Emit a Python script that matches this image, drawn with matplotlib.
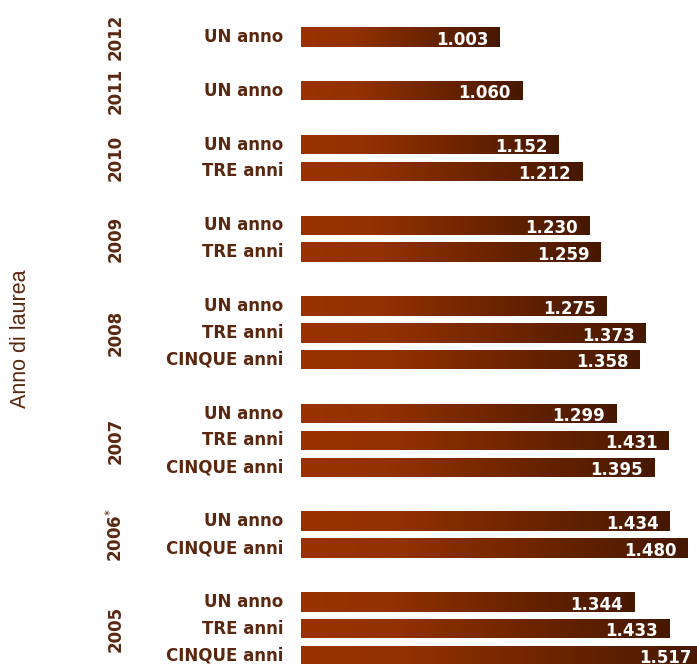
import matplotlib
matplotlib.use("Agg")
import matplotlib.pyplot as plt
import matplotlib.transforms as mtransforms
import numpy as np
from matplotlib.colors import LinearSegmentedColormap

# ---- data ----
years = ["2012", "2011", "2010", "2009", "2008", "2007", "2006*", "2005"]
group_labels = [
    ["UN anno"],
    ["UN anno"],
    ["UN anno", "TRE anni"],
    ["UN anno", "TRE anni"],
    ["UN anno", "TRE anni", "CINQUE anni"],
    ["UN anno", "TRE anni", "CINQUE anni"],
    ["UN anno", "CINQUE anni"],
    ["UN anno", "TRE anni", "CINQUE anni"],
]
group_values = [
    [1.003],
    [1.060],
    [1.152, 1.212],
    [1.230, 1.259],
    [1.275, 1.373, 1.358],
    [1.299, 1.431, 1.395],
    [1.434, 1.480],
    [1.344, 1.433, 1.517],
]
x_start = 0.5

# ---- layout ----
W, H = 697, 664
fig = plt.figure(figsize=(W / 100, H / 100), dpi=100)
ax = fig.add_axes([301 / W, 0, 1 - 301 / W, 1])

brown_text = "#5a2810"
cmap = LinearSegmentedColormap.from_list(
    "grad", [(0, "#9a3300"), (0.25, "#933100"), (1, "#461800")])
grad = np.linspace(0, 1, 256).reshape(1, -1)

row = 0
positions = []
for gi, (labs, vals) in enumerate(zip(group_labels, group_values)):
    rows = []
    for lab, v in zip(labs, vals):
        bars = ax.barh(row, v - x_start, left=x_start, height=0.72,
                       color="none", edgecolor="none")
        b = bars[0]
        im = ax.imshow(grad, cmap=cmap, aspect="auto",
                       extent=(x_start, v, row + 0.36, row - 0.36),
                       interpolation="bilinear", zorder=2)
        im.set_clip_path(b)
        ax.text(v - 0.028, row + 0.1, f"{v:.3f}",
                color="white", fontsize=12, fontweight="bold",
                ha="right", va="center", zorder=3, clip_on=False)
        ax.text(-0.045, row, lab, transform=ax.get_yaxis_transform(),
                color=brown_text, fontsize=12, fontweight="bold",
                ha="right", va="center")
        rows.append(row)
        row += 1
    positions.append(np.mean(rows))
    row += 1

ytrans = mtransforms.blended_transform_factory(fig.transFigure, ax.transData)
for yr, p in zip(years, positions):
    if yr.endswith("*"):
        txt = yr[:-1] + r"$^{*}$"
    else:
        txt = yr
    ax.text(116 / W, p, txt, transform=ytrans,
            color=brown_text, fontsize=12, fontweight="bold",
            rotation=90, ha="center", va="center")

fig.text(21 / W, 1 - 339 / H, "Anno di laurea", rotation=90,
         family="Liberation Sans", fontsize=15.5, color="#5a2810",
         ha="center", va="center")

ax.set_xlim(x_start, 1.503)
ax.set_ylim(23.31, -1.375)
ax.axis("off")

fig.savefig("out.png", dpi=100)
